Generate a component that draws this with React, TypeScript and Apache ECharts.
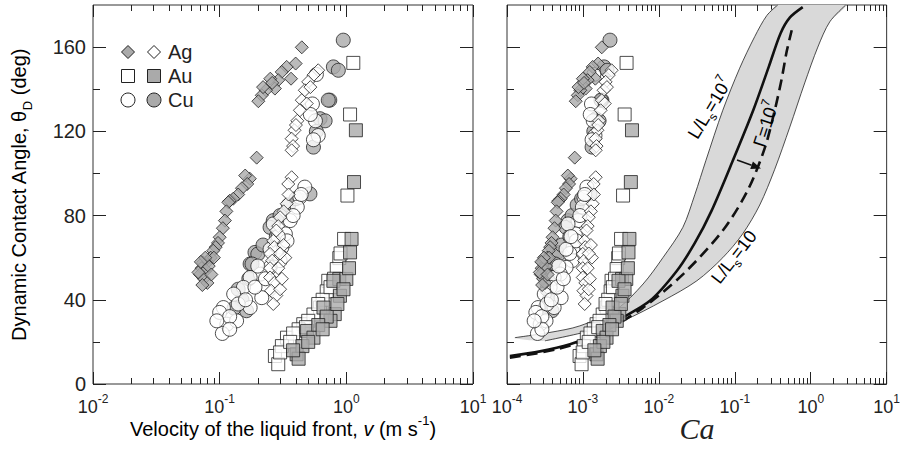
import React, { useEffect, useRef } from 'react';
import * as echarts from 'echarts';

const FONT = '"Liberation Sans", Arial, Helvetica, sans-serif';
const INK = '#222';
const GRAY = '#aaaaaa';

// ---------- measured data (left panel: velocity v [m/s], angle [deg]) ----------
const agFilledVelocity = [0.445, 0.398, 0.366, 0.338, 0.309, 0.29, 0.273, 0.251, 0.232, 0.215, 0.202, 0.22, 0.26, 0.196, 0.173, 0.159, 0.165, 0.15, 0.14, 0.128, 0.12, 0.117, 0.113, 0.11, 0.106, 0.1, 0.097, 0.093, 0.089, 0.085, 0.08, 0.074, 0.072, 0.078, 0.07, 0.075, 0.08, 0.073, 0.068, 0.082, 0.09, 0.077, 0.071, 0.086];
const agFilledAngle = [159.9, 152.2, 145, 150.6, 148.2, 144.3, 140.3, 145, 139.5, 137.1, 134.3, 141, 143, 107.5, 97.5, 99, 95, 93, 90, 88, 87, 86.3, 82, 77.6, 74, 69.7, 67, 65, 63.3, 60, 58, 57.8, 55, 54, 52, 50, 48, 47, 53, 56, 60, 60, 58, 52];

const agOpenVelocity = [0.6, 0.55, 0.5, 0.47, 0.445, 0.487, 0.52, 0.43, 0.41, 0.39, 0.37, 0.38, 0.37, 0.4, 0.37, 0.348, 0.338, 0.35, 0.32, 0.3, 0.29, 0.28, 0.265, 0.27, 0.25, 0.26, 0.25, 0.25, 0.27, 0.255, 0.28, 0.265, 0.3, 0.31, 0.29, 0.33, 0.32, 0.3];
const agOpenAngle = [149, 146.7, 143.5, 139.5, 134.8, 133.2, 141, 130, 125, 120.5, 116.5, 113, 111, 123, 98.2, 95, 85.6, 90, 82, 79.2, 75, 72.9, 68, 65, 61.8, 58.6, 55, 50.6, 48, 44.3, 42, 38, 45, 50, 55, 60, 66, 62];

const auOpenVelocity = [1.135, 1.07, 1.02, 0.96, 0.88, 0.84, 0.72, 0.62, 0.457, 0.34, 0.273, 0.29, 0.8, 0.7, 0.65, 0.55, 0.5, 0.42, 0.38, 0.31, 0.3, 0.36, 0.6, 0.9, 0.75, 0.48];
const auOpenAngle = [152.5, 128, 89.5, 68.9, 59.8, 54.6, 49, 36.3, 28.4, 22, 13.3, 9.4, 50, 44, 40, 33, 30, 26, 24, 18, 15, 20, 38, 62, 46, 27];

const auFilledVelocity = [1.19, 1.15, 1.1, 1.07, 0.88, 1.0, 0.89, 0.81, 0.79, 0.66, 0.49, 0.405, 0.95, 0.75, 0.7, 0.6, 0.55, 0.45, 0.42, 0.5, 0.65, 0.85, 1.05, 0.38];
const auFilledAngle = [120.5, 95.9, 68.9, 62.5, 49.9, 49.9, 41.9, 33.2, 49, 36.3, 25.2, 14.1, 45, 30, 32, 28, 22, 18, 12, 20, 26, 38, 55, 16];

const cuOpenVelocity = [0.58, 0.54, 0.57, 0.6, 0.55, 0.52, 0.47, 0.43, 0.41, 0.36, 0.33, 0.31, 0.265, 0.3, 0.25, 0.21, 0.174, 0.154, 0.129, 0.107, 0.1, 0.114, 0.136, 0.174, 0.215, 0.105, 0.12, 0.14, 0.16, 0.19, 0.23, 0.28, 0.34, 0.38, 0.44, 0.12, 0.095, 0.2, 0.25, 0.29];
const cuOpenAngle = [147, 133, 125, 118, 116, 128, 93.5, 88.7, 84, 77.6, 71.3, 64.9, 76, 58.6, 55.4, 52.2, 50.6, 45.9, 42.7, 36.3, 34, 28.4, 30, 36.3, 41, 24, 32, 38, 40, 46, 50, 62, 68, 80, 90, 26, 30, 56, 64, 70];

const cuFilledVelocity = [0.946, 0.79, 0.865, 0.74, 0.72, 0.62, 0.68, 0.55, 0.58, 0.516, 0.265, 0.25, 0.19, 0.174, 0.163, 0.2, 0.18, 0.3, 0.35, 0.4, 0.22, 0.15, 0.14, 0.13, 0.17, 0.28];
const cuFilledAngle = [163.3, 150.6, 149, 134.8, 134.8, 126, 125, 112.5, 120, 90.3, 77.6, 74.4, 62.5, 57, 34.8, 61.7, 57, 80, 85, 88, 66, 40, 45, 36, 50, 70];

// Ca = mu * v / sigma : ratio mu/sigma [s/m] for each data set
const agMuOverSigma = 3.98e-3;
const auOpenMuOverSigma = 3.31e-3;
const auFilledMuOverSigma = 3.72e-3;
const cuMuOverSigma = 2.4e-3;

// ---------- model curves (right panel) ----------
const upperCa = [1.27e-4, 3.68e-4, 9.1e-4, 2.8e-3, 6.2e-3, 1.13e-2, 2.07e-2, 2.98e-2, 4.15e-2, 6.95e-2, 0.116, 0.183, 0.264, 0.368];
const upperAngle = [22, 24.5, 27.6, 35.6, 47.5, 60, 74.4, 90, 106, 130, 150, 165, 175, 180];
const lowerCa = [3.16e-4, 1.24e-3, 3.36e-3, 1.13e-2, 3.16e-2, 6.95e-2, 0.127, 0.213, 0.336, 0.53, 0.834, 1.24, 1.78, 2.89];
const lowerAngle = [20.5, 25.2, 30, 39.5, 49, 60, 71.3, 85, 102, 122, 143, 160, 172, 180];
const solidCa = [1.09e-4, 2.72e-4, 6.75e-4, 1.44e-3, 2.8e-3, 7.62e-3, 1.73e-2, 2.98e-2, 4.9e-2, 9.4e-2, 0.175, 0.28, 0.4, 0.53, 0.785];
const solidAngle = [13.3, 15.5, 18.9, 23.5, 30, 39.5, 53.8, 67, 82, 106, 130, 150.6, 166.5, 174, 179];
const dashedCa = [1.09e-4, 4.51e-4, 1.51e-3, 6.21e-3, 2.09e-2, 6.95e-2, 0.148, 0.248, 0.336, 0.415, 0.483, 0.562];
const dashedAngle = [12.5, 16.5, 22.9, 36.3, 52.2, 72.9, 92, 112, 130, 145, 158, 168];

// ---------- axes ----------
const leftDecades = [0.01, 0.1, 1, 10];
const rightDecades = [1e-4, 1e-3, 1e-2, 1e-1, 1, 10];
const minorMultipliers = [2, 3, 4, 5, 6, 7, 8, 9];
const yMajorTicks = [0, 40, 80, 120, 160];
const yMinorTicks = [20, 60, 100, 140];
const Y_MIN = 0;
const Y_MAX = 180;

const pairs = (xs: number[], ys: number[], k = 1) => xs.map((x, i) => [x * k, ys[i]]);

// tick positions in decade (exponent) units for the tick-only axes
const majorExp = (decades: number[]) => decades.map((d) => Math.round(Math.log10(d)));
const minorExp = (decades: number[]) => {
  const out: number[] = [];
  decades.slice(0, -1).forEach((d) => minorMultipliers.forEach((m) => out.push(Math.log10(d * m))));
  return out;
};

const expRich = {
  b: { fontSize: 18, fontFamily: FONT, color: INK, padding: [5, 0, 0, 0] },
  s: { fontSize: 12, fontFamily: FONT, color: INK, verticalAlign: 'top' },
};
const expLabel = (value: number) => `{b|10}{s|${Math.round(Math.log10(value))}}`;

const annRich = {
  n: { fontSize: 18, fontFamily: FONT, color: INK, padding: [4, 0, 4, 0] },
  sup: { fontSize: 12, fontFamily: FONT, color: INK, verticalAlign: 'top' },
  sub: { fontSize: 12, fontFamily: FONT, color: INK, verticalAlign: 'bottom' },
};

const filledStyle = { color: GRAY, borderColor: INK, borderWidth: 1 };
const openStyle = { color: '#ffffff', borderColor: INK, borderWidth: 1 };

function buildOption() {
  const scatterSets = [
    { name: 'Au open', v: auOpenVelocity, a: auOpenAngle, k: auOpenMuOverSigma, symbol: 'rect', size: 13, style: openStyle },
    { name: 'Au filled', v: auFilledVelocity, a: auFilledAngle, k: auFilledMuOverSigma, symbol: 'rect', size: 13, style: filledStyle },
    { name: 'Cu filled', v: cuFilledVelocity, a: cuFilledAngle, k: cuMuOverSigma, symbol: 'circle', size: 14, style: filledStyle },
    { name: 'Cu open', v: cuOpenVelocity, a: cuOpenAngle, k: cuMuOverSigma, symbol: 'circle', size: 14, style: openStyle },
    { name: 'Ag filled', v: agFilledVelocity, a: agFilledAngle, k: agMuOverSigma, symbol: 'diamond', size: 13, style: filledStyle },
    { name: 'Ag open', v: agOpenVelocity, a: agOpenAngle, k: agMuOverSigma, symbol: 'diamond', size: 13, style: openStyle },
  ];

  const series: any[] = [];

  // band between L/Ls = 10^7 and L/Ls = 10
  const bandPoints = [...pairs(upperCa, upperAngle), ...pairs(lowerCa, lowerAngle).reverse()];
  series.push({
    type: 'custom',
    xAxisIndex: 1,
    yAxisIndex: 1,
    silent: true,
    clip: true,
    z: 1,
    data: [bandPoints[0]],
    renderItem: (params: any, api: any) => ({
      type: 'polygon',
      shape: { points: bandPoints.map((p) => api.coord(p)), smooth: 0.25 },
      style: { fill: '#d9d9d9', stroke: 'none' },
    }),
  });

  const curve = (xs: number[], ys: number[], lineStyle: any) => ({
    type: 'line',
    xAxisIndex: 1,
    yAxisIndex: 1,
    data: pairs(xs, ys),
    showSymbol: false,
    smooth: 0.3,
    silent: true,
    z: 2,
    lineStyle,
  });
  series.push(curve(upperCa, upperAngle, { color: INK, width: 0.8 }));
  series.push(curve(lowerCa, lowerAngle, { color: INK, width: 0.8 }));
  series.push(curve(solidCa, solidAngle, { color: '#111', width: 2.6 }));
  series.push(curve(dashedCa, dashedAngle, { color: '#111', width: 2.6, type: [11, 6] }));

  scatterSets.forEach((s) => {
    [0, 1].forEach((panel) => {
      series.push({
        type: 'scatter',
        name: s.name,
        xAxisIndex: panel,
        yAxisIndex: panel,
        symbol: s.symbol,
        symbolSize: s.size,
        itemStyle: s.style,
        z: 3,
        silent: true,
        data: pairs(s.v, s.a, panel === 0 ? 1 : s.k),
      });
    });
  });

  const tick = (len: number, customValues: number[]) => ({
    show: true,
    inside: true,
    length: len,
    lineStyle: { color: INK, width: 1 },
    customValues,
  });
  const hidden = { show: false };

  const logPrimary = (gridIndex: number, decades: number[]) => ({
    gridIndex,
    type: 'log',
    logBase: 10,
    min: decades[0],
    max: decades[decades.length - 1],
    splitNumber: decades.length - 1,
    position: 'bottom',
    axisLine: { show: false, onZero: false },
    splitLine: hidden,
    axisTick: hidden,
    axisLabel: { margin: 9, formatter: expLabel, rich: expRich, hideOverlap: false },
  });
  // tick-only axis in decade units, pinned (onZero) to a helper axis at the wanted frame side
  const expTickAxis = (gridIndex: number, decades: number[], position: string, len: number, values: number[], zeroAxis: number) => ({
    gridIndex,
    type: 'value',
    min: majorExp(decades)[0],
    max: majorExp(decades)[decades.length - 1],
    interval: 1,
    position,
    axisLine: { show: false, onZero: true, onZeroAxisIndex: zeroAxis },
    splitLine: hidden,
    axisLabel: hidden,
    axisTick: tick(len, values),
  });
  const helperAxis = (gridIndex: number, min: number, max: number) => ({
    gridIndex,
    type: 'value',
    min,
    max,
    show: false,
    axisLine: { show: false, onZero: false },
    axisTick: hidden,
    axisLabel: hidden,
    splitLine: hidden,
  });
  const yPrimary = (gridIndex: number, labels: boolean) => ({
    gridIndex,
    type: 'value',
    min: Y_MIN,
    max: Y_MAX,
    interval: 40,
    position: 'left',
    axisLine: { show: false, onZero: false },
    splitLine: hidden,
    axisTick: hidden,
    axisLabel: labels
      ? {
          show: true,
          margin: 7,
          fontSize: 20,
          fontFamily: FONT,
          color: INK,
          formatter: (v: number) => (yMajorTicks.includes(v) ? String(v) : ''),
        }
      : hidden,
  });
  const yTickAxis = (gridIndex: number, position: string, len: number, values: number[], zeroAxis: number) => ({
    gridIndex,
    type: 'value',
    min: Y_MIN,
    max: Y_MAX,
    interval: 20,
    position,
    axisLine: { show: false, onZero: true, onZeroAxisIndex: zeroAxis },
    splitLine: hidden,
    axisLabel: hidden,
    axisTick: tick(len, values),
  });

  // x axes: 0,1 log primaries; 2-9 tick axes; 10-13 helpers (zero at left / right edge)
  const xAxis = [
    logPrimary(0, leftDecades),
    logPrimary(1, rightDecades),
    expTickAxis(0, leftDecades, 'bottom', 6, minorExp(leftDecades), 0),
    expTickAxis(1, rightDecades, 'bottom', 6, minorExp(rightDecades), 1),
    expTickAxis(0, leftDecades, 'bottom', 12, majorExp(leftDecades), 0),
    expTickAxis(1, rightDecades, 'bottom', 12, majorExp(rightDecades), 1),
    expTickAxis(0, leftDecades, 'top', 6, minorExp(leftDecades), 2),
    expTickAxis(1, rightDecades, 'top', 6, minorExp(rightDecades), 3),
    expTickAxis(0, leftDecades, 'top', 12, majorExp(leftDecades), 2),
    expTickAxis(1, rightDecades, 'top', 12, majorExp(rightDecades), 3),
    helperAxis(0, 0, 1),
    helperAxis(1, 0, 1),
    helperAxis(0, -1, 0),
    helperAxis(1, -1, 0),
  ];
  // y axes: 0,1 primaries; 2,3 helpers (zero at top edge); 4-11 tick axes
  const yAxis = [
    yPrimary(0, true),
    yPrimary(1, false),
    helperAxis(0, -Y_MAX, 0),
    helperAxis(1, -Y_MAX, 0),
    yTickAxis(0, 'left', 13, yMajorTicks, 10),
    yTickAxis(1, 'left', 13, yMajorTicks, 11),
    yTickAxis(0, 'left', 7, yMinorTicks, 10),
    yTickAxis(1, 'left', 7, yMinorTicks, 11),
    yTickAxis(0, 'right', 13, yMajorTicks, 12),
    yTickAxis(1, 'right', 13, yMajorTicks, 13),
    yTickAxis(0, 'right', 7, yMinorTicks, 12),
    yTickAxis(1, 'right', 7, yMinorTicks, 13),
  ];

  const Z = 100;
  const diamond = (cx: number, cy: number, fill: string) => ({
    type: 'polygon',
    z: Z,
    shape: { points: [[cx, cy - 6.5], [cx + 6.5, cy], [cx, cy + 6.5], [cx - 6.5, cy]] },
    style: { fill, stroke: INK, lineWidth: 1 },
  });
  const square = (cx: number, cy: number, fill: string) => ({
    type: 'rect',
    z: Z,
    shape: { x: cx - 6.5, y: cy - 6.5, width: 13, height: 13 },
    style: { fill, stroke: INK, lineWidth: 1 },
  });
  const circ = (cx: number, cy: number, fill: string) => ({
    type: 'circle',
    z: Z,
    shape: { cx, cy, r: 7 },
    style: { fill, stroke: INK, lineWidth: 1 },
  });
  const legendText = (text: string, y: number) => ({
    type: 'text',
    z: Z,
    x: 168,
    y,
    style: { text, fontSize: 20, fontFamily: FONT, fill: INK, textAlign: 'left', textVerticalAlign: 'middle' },
  });

  const ax = 737, ay = 160, tx = 761, ty = 168.5;
  const dx = tx - ax, dy = ty - ay, L = Math.hypot(dx, dy);
  const ux = dx / L, uy = dy / L;
  const bx = tx - 10 * ux, by = ty - 10 * uy;

  const graphic = [
    diamond(128, 52, GRAY), diamond(154, 52, '#fff'), legendText('Ag', 52),
    square(128, 76, '#fff'), square(154, 76, GRAY), legendText('Au', 76),
    circ(128, 100, '#fff'), circ(154, 100, GRAY), legendText('Cu', 100),
    {
      type: 'text', z: Z, x: 283, y: 426,
      style: {
        text: '{n|Velocity of the liquid front, }{i|v}{n| (m s}{sup|-1}{n|)}',
        textAlign: 'center', textVerticalAlign: 'middle',
        rich: {
          n: { fontSize: 20, fontFamily: FONT, color: INK, padding: [5, 0, 0, 0] },
          i: { fontSize: 20, fontFamily: FONT, fontStyle: 'italic', color: INK, padding: [5, 0, 0, 0] },
          sup: { fontSize: 13, fontFamily: FONT, color: INK, verticalAlign: 'top' },
        },
      },
    },
    {
      type: 'text', z: Z, x: 21, y: 195, rotation: Math.PI / 2,
      style: {
        text: '{n|Dynamic Contact Angle, θ}{sub|D}{n| (deg)}',
        textAlign: 'center', textVerticalAlign: 'middle',
        rich: {
          n: { fontSize: 20, fontFamily: FONT, color: INK, padding: [0, 0, 5, 0] },
          sub: { fontSize: 13, fontFamily: FONT, color: INK, verticalAlign: 'bottom' },
        },
      },
    },
    {
      type: 'text', z: Z, x: 697, y: 428,
      style: { text: 'Ca', fontSize: 30, fontFamily: '"Liberation Serif", "Times New Roman", serif', fontStyle: 'italic', fill: INK, textAlign: 'center', textVerticalAlign: 'middle' },
    },
    {
      type: 'text', z: Z, x: 710, y: 108, rotation: (59 * Math.PI) / 180,
      style: { text: '{n|L/L}{sub|s}{n|=10}{sup|7}', textAlign: 'center', textVerticalAlign: 'middle', rich: annRich },
    },
    {
      type: 'text', z: Z, x: 766, y: 124, rotation: (72 * Math.PI) / 180,
      style: { text: '{n|Γ=10}{sup|7}', textAlign: 'center', textVerticalAlign: 'middle', rich: annRich },
    },
    {
      type: 'text', z: Z, x: 734, y: 257, rotation: (52 * Math.PI) / 180,
      style: { text: '{n|L/L}{sub|s}{n|=10}', textAlign: 'center', textVerticalAlign: 'middle', rich: annRich },
    },
    { type: 'line', z: Z, shape: { x1: ax, y1: ay, x2: bx, y2: by }, style: { stroke: '#111', lineWidth: 1.6 } },
    {
      type: 'polygon',
      z: Z,
      shape: { points: [[tx, ty], [bx - 4 * uy, by + 4 * ux], [bx + 4 * uy, by - 4 * ux]] },
      style: { fill: '#111' },
    },
  ];

  return {
    animation: false,
    backgroundColor: '#ffffff',
    grid: [
      { left: 93, top: 5, width: 380, height: 379, show: true, borderColor: '#333', borderWidth: 1, backgroundColor: 'transparent' },
      { left: 507, top: 5, width: 380, height: 379, show: true, borderColor: '#333', borderWidth: 1, backgroundColor: 'transparent' },
    ],
    xAxis,
    yAxis,
    series,
    graphic,
  };
}

export default function App() {
  const ref = useRef<HTMLDivElement>(null);
  useEffect(() => {
    if (!ref.current) return;
    const chart = echarts.init(ref.current, undefined, { renderer: 'svg' });
    chart.setOption(buildOption() as any);
    return () => chart.dispose();
  }, []);
  return (
    <div
      ref={ref}
      style={{ position: 'fixed', left: 0, top: 0, width: 903, height: 449, background: '#fff' }}
    />
  );
}
